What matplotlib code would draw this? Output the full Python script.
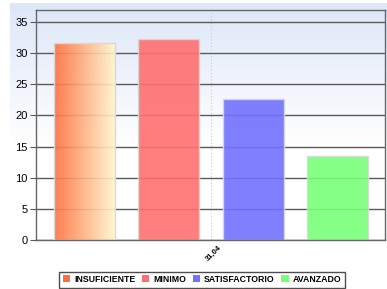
import numpy as np
import matplotlib
matplotlib.use("Agg")
import matplotlib.pyplot as plt
import matplotlib.transforms as mtransforms
from matplotlib.patches import Rectangle
from matplotlib.colors import LinearSegmentedColormap

categories = ["INSUFICIENTE", "MINIMO", "SATISFACTORIO", "AVANZADO"]
values = [31.6, 32.3, 22.7, 13.5]
colors = ["#FF7A4A", "#FF7070", "#7272FF", "#78FF78"]
xtick_label = "31,04"
yticks = [0, 5, 10, 15, 20, 25, 30, 35]

plt.rcParams['font.family'] = ['Liberation Sans', 'DejaVu Sans']

W, H = 387, 289
fig = plt.figure(figsize=(W / 100, H / 100), dpi=100)

# background gradient (figure level)
bg = fig.add_axes([10 / W, 0, 1 - 10 / W, 1 - 3 / H], zorder=-10)
grad = np.linspace(0, 1, 256).reshape(-1, 1)
cmap_bg = LinearSegmentedColormap.from_list("bg", [(0, "#ffffff"), (0.5, "#ffffff"), (1.0, "#dde7f8")])
bg.imshow(grad, aspect="auto", cmap=cmap_bg, origin="lower", extent=[0, 1, 0, 1])
bg.axis("off")

left, right, top, bottom = 36, 385, 10, 240
axw = right - left
ax = fig.add_axes([left / W, (H - bottom) / H, axw / W, (bottom - top) / H])
ax.patch.set_alpha(0)
ymax = 35 + (22 - top) / 31 * 5

# x in units of the single category: center at 0
center_px = 211
x0 = -(center_px - left) / axw
ax.set_xlim(x0, x0 + 1)
ax.set_ylim(0, ymax)

ax.set_yticks(yticks)
ax.yaxis.grid(True, color="#5a5a5a", linewidth=1.0)
ax.set_axisbelow(True)
ax.tick_params(axis="y", length=4, color="#5a5a5a", labelsize=8, pad=2)
ax.set_xticks([0])
ax.set_xticklabels([xtick_label], rotation=45, ha="right", va="top", fontsize=5.5, fontweight="bold",
                   rotation_mode="anchor")
ax.tick_params(axis="x", length=0, pad=3)
off = mtransforms.ScaledTranslation(7 / 100, 0, fig.dpi_scale_trans)
for lab in ax.get_xticklabels():
    lab.set_transform(lab.get_transform() + off)
ax.axvline(0, color="#cccccc", linestyle=(0, (1, 2)), linewidth=0.8, zorder=0)
for s in ax.spines.values():
    s.set_color("#666666")
    s.set_linewidth(1.0)

spacing = 84.2 / axw
bar_w = 61 / axw
xs = (np.arange(len(values)) - 1.5) * spacing
handles = []
for i, (x, v, c) in enumerate(zip(xs, values, colors)):
    if i == 0:
        gcmap = LinearSegmentedColormap.from_list("g", ["#FF6E3C", "#FFF6CC"])
        ax.imshow(np.linspace(0, 1, 256).reshape(1, -1), cmap=gcmap, aspect="auto",
                  extent=[x - bar_w / 2, x + bar_w / 2, 0, v], alpha=0.9, zorder=2)
        r = Rectangle((x - bar_w / 2, 0), bar_w, v, facecolor="none", edgecolor="#d8d8d8",
                      linewidth=1.0, zorder=3)
        ax.add_patch(r)
        handles.append(Rectangle((0, 0), 1, 1, facecolor="#FF6E3C", edgecolor="none"))
    else:
        ax.bar(x, v, width=bar_w, color=c, alpha=0.9, edgecolor="#d8d8d8", linewidth=1.0, zorder=2)
        handles.append(Rectangle((0, 0), 1, 1, facecolor=c, edgecolor="none"))
ax.set_xlim(x0, x0 + 1)
ax.set_ylim(0, ymax)

leg = fig.legend(handles, categories, loc="center", bbox_to_anchor=(202 / W, 1 - 279.5 / H), ncol=4,
                 frameon=True, fancybox=False, prop={"size": 6.3, "weight": "bold"},
                 handlelength=0.85, handleheight=0.85, handletextpad=0.45, columnspacing=0.75,
                 borderpad=0.4, edgecolor="#222222", borderaxespad=0)
leg.get_frame().set_linewidth(1.0)

fig.savefig("out.png", dpi=100)
